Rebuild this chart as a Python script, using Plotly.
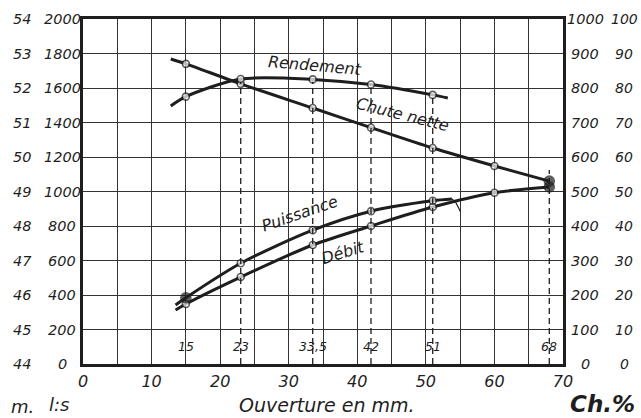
import plotly.graph_objects as go

# ---------------- data ----------------
# Ouverture (mm) at which measurements were taken
ouv_rend = [15, 23, 33.5, 42, 51]
rendement_pct = [77.5, 82.6, 82.5, 81.0, 78.0]
rend_start = (12.8, 74.8)
rend_end = (53.2, 77.1)

ouv_chute = [15, 23, 33.5, 42, 51, 60, 68]
chute_m = [52.70, 52.12, 51.42, 50.85, 50.26, 49.74, 49.30]
chute_start = (12.8, 52.84)

ouv_puis = [15, 23, 33.5, 42, 51]
puissance_ch = [192, 292, 388, 443, 473]
puis_start = (13.5, 171)
puis_end = (53.8, 478)
# small pen flourish at the end of the Puissance curve
puis_hook_x = [53.8, 54.3, 54.7, 55.0]
puis_hook_ch = [478, 470, 455, 443]

ouv_debit = [15, 23, 33.5, 42, 51, 60, 68]
debit_ls = [348, 504, 690, 800, 910, 993, 1026]
debit_start = (13.5, 313)

# dashed reference verticals (ouverture, top in %)
dash_x = [23, 33.5, 42, 51, 68]
dash_top_pct = [82.6, 82.5, 81.0, 78.0, 56.2]
dash_labels = ["23", "33,5", "42", "51", "68"]
extra_label_x = [15]
extra_label = ["15"]

# axis ticks
x_tick_vals = [0, 5, 10, 15, 20, 25, 30, 35, 40, 45, 50, 55, 60, 65, 70]
x_tick_text = ["0", "", "10", "", "20", "", "30", "", "40", "", "50", "", "60", "", "70"]
ls_ticks = [0, 200, 400, 600, 800, 1000, 1200, 1400, 1600, 1800, 2000]
m_ticks = [44, 45, 46, 47, 48, 49, 50, 51, 52, 53, 54]
ch_ticks = [0, 100, 200, 300, 400, 500, 600, 700, 800, 900, 1000]
pct_ticks = [0, 10, 20, 30, 40, 50, 60, 70, 80, 90, 100]

# ---------------- style ----------------
INK = "#1e1e1e"
GRID = "#333333"
FONT = "DejaVu Sans"
LW = 3.0
PL, PR, PT, PB = 83, 563, 19, 364   # plot frame in pixels

fig = go.Figure()


def curve(xs, ys, yaxis, width=LW):
    fig.add_trace(go.Scatter(x=xs, y=ys, mode="lines", yaxis=yaxis,
                             line=dict(color=INK, width=width, shape="spline", smoothing=0.8),
                             hoverinfo="skip"))


def points(xs, ys, yaxis, filled_idx=()):
    fills = ["white"] * len(xs)
    sizes = [7] * len(xs)
    for i in filled_idx:
        fills[i] = INK
        sizes[i] = 10
    fig.add_trace(go.Scatter(x=xs, y=ys, mode="markers", yaxis=yaxis,
                             marker=dict(color=fills, size=sizes,
                                         line=dict(color=INK, width=1.6)),
                             hoverinfo="skip"))


# dashed verticals (on % axis)
for xv, top in zip(dash_x, dash_top_pct):
    fig.add_trace(go.Scatter(x=[xv, xv], y=[0, top], mode="lines", yaxis="y4",
                             line=dict(color=INK, width=1.3, dash="6px,4px"),
                             hoverinfo="skip"))

# Rendement (%)
curve([rend_start[0]] + ouv_rend + [rend_end[0]],
      [rend_start[1]] + rendement_pct + [rend_end[1]], "y4")
# Chute nette (m)
curve([chute_start[0]] + ouv_chute, [chute_start[1]] + chute_m, "y2")
# Puissance (Ch)
curve([puis_start[0]] + ouv_puis + [puis_end[0]],
      [puis_start[1]] + puissance_ch + [puis_end[1]], "y3")
curve(puis_hook_x, puis_hook_ch, "y3", width=1.2)
# Débit (l:s)
curve([debit_start[0]] + ouv_debit, [debit_start[1]] + debit_ls, "y")

points(ouv_rend, rendement_pct, "y4")
points(ouv_chute, chute_m, "y2", filled_idx=[len(ouv_chute) - 1])
points(ouv_puis, puissance_ch, "y3", filled_idx=[0])
points(ouv_debit, debit_ls, "y", filled_idx=[len(ouv_debit) - 1])

hidden = dict(showgrid=False, zeroline=False, showline=False, ticks="",
              showticklabels=False, automargin=False, fixedrange=True)

fig.update_layout(
    template="none",
    width=641, height=418,
    margin=dict(l=PL, r=641 - PR, t=PT, b=418 - PB),
    paper_bgcolor="white", plot_bgcolor="white",
    showlegend=False,
    xaxis=dict(range=[0, 70], tickvals=x_tick_vals, ticktext=x_tick_text,
               showgrid=True, gridcolor=GRID, gridwidth=1.3, zeroline=False,
               showline=True, linecolor=INK, linewidth=2.6, mirror=True,
               ticks="", tickfont=dict(family=FONT, size=16, color=INK, style="italic"),
               ticklabelstandoff=1, automargin=False, fixedrange=True),
    yaxis=dict(range=[0, 2000], tickvals=ls_ticks,
               showgrid=True, gridcolor=GRID, gridwidth=1.3, zeroline=False,
               showline=True, linecolor=INK, linewidth=2.6, mirror=True,
               ticks="", showticklabels=False, automargin=False, fixedrange=True),
    yaxis2=dict(range=[44, 54], overlaying="y", side="left", anchor="x", **hidden),
    yaxis3=dict(range=[0, 1000], overlaying="y", side="right", anchor="x", **hidden),
    yaxis4=dict(range=[0, 100], overlaying="y", side="right", anchor="x", **hidden),
)


def px_x(px):
    return (px - PL) / (PR - PL)


ann = []
tick_font = dict(family=FONT, size=14.5, color=INK, style="italic")
# four columns of scale labels, each tied to its own y axis
for ticks, yref, cx in [(m_ticks, "y2", 22), (ls_ticks, "y", 62),
                        (ch_ticks, "y3", 585), (pct_ticks, "y4", 624)]:
    for v in ticks:
        ann.append(dict(x=px_x(cx), y=v, xref="paper", yref=yref, text=str(v),
                        showarrow=False, xanchor="center", yanchor="middle",
                        font=tick_font if yref != "y4" else dict(tick_font, size=14)))

# numbers of the measurement openings
for xv, t in zip(extra_label_x + dash_x, extra_label + dash_labels):
    ann.append(dict(x=xv, y=100, xref="x", yref="y", text=t, showarrow=False,
                    xanchor="center", yanchor="middle",
                    font=dict(family=FONT, size=12.5, color=INK, style="italic")))

curve_font = dict(family=FONT, size=16, color=INK, style="italic")
ann += [
    dict(x=33.8, y=1728, xref="x", yref="y", text="Rendement", textangle=5,
         showarrow=False, font=curve_font),
    dict(x=46.6, y=1445, xref="x", yref="y", text="Chute nette", textangle=14,
         showarrow=False, font=curve_font),
    dict(x=31.6, y=872, xref="x", yref="y", text="Puissance", textangle=-19,
         showarrow=False, font=curve_font),
    dict(x=37.9, y=645, xref="x", yref="y", text="Débit", textangle=-17,
         showarrow=False, font=curve_font),
]

# bottom labels at pixel positions
for text, cx, cy, size in [("Ouverture en mm.", 327, 405, 19), ("m.", 22, 406, 18),
                           ("l:s", 59, 405, 18), ("<b>Ch.%</b>", 602, 404, 23)]:
    ann.append(dict(x=px_x(cx), y=(PB - cy) / (PB - PT), xref="paper", yref="paper",
                    text=text, showarrow=False, xanchor="center", yanchor="middle",
                    font=dict(family=FONT, size=size, color=INK, style="italic")))

fig.update_layout(annotations=ann)

fig.write_html("out.html")
